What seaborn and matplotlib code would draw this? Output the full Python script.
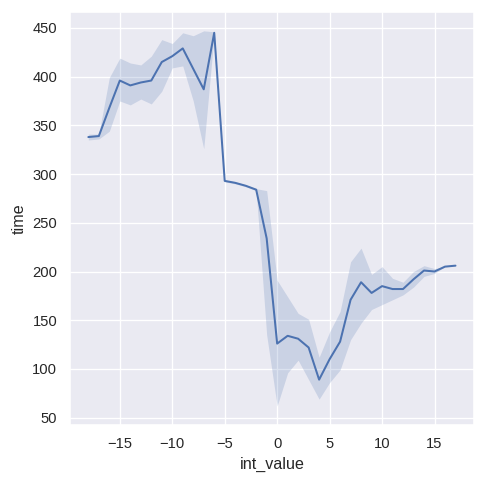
import numpy as np
import pandas as pd
import matplotlib.pyplot as plt
import seaborn as sns

# ------------------- Data -------------------
int_value = list(range(-18, 18))
time_mean = [338, 339, 368, 396, 391, 394, 396, 415, 421, 429, 408, 387, 445,
             293, 291, 288, 284, 234, 126, 134, 131, 122, 89, 110, 128, 171,
             189, 178, 185, 182, 182, 192, 201, 200, 205, 206]
time_low = [335, 336, 344, 375, 371, 377, 372, 385, 409, 411, 375, 326, 444,
            292, 290, 287, 283, 135, 62, 96, 109, 89, 69, 86, 99, 130,
            147, 161, 166, 171, 176, 184, 195, 198, 205, 206]
time_high = [341, 341, 399, 419, 414, 412, 421, 438, 434, 445, 442, 447, 446,
             294, 292, 289, 285, 283, 191, 174, 157, 151, 112, 138, 159, 210,
             224, 197, 205, 193, 189, 200, 206, 203, 205, 206]

df = pd.DataFrame({"int_value": int_value, "time": time_mean,
                   "low": time_low, "high": time_high})

# ------------------- Plot -------------------
sns.set_theme()
plt.rcParams['font.family'] = ['Liberation Sans', 'DejaVu Sans']
fig = plt.figure(figsize=(5, 5))
ax = fig.add_axes([0.1446, 0.1225, 0.8344, 0.8525])

sns.lineplot(x="int_value", y="time", data=df, errorbar=None, ax=ax)
color = ax.lines[0].get_color()
ax.fill_between(df["int_value"], df["low"], df["high"], color=color, alpha=0.2, linewidth=0)

ax.set_xlabel("int_value")
ax.set_ylabel("time")
ax.set_xticks([-15, -10, -5, 0, 5, 10, 15])

fig.savefig("out.png", dpi=96.8)
plt.close()
